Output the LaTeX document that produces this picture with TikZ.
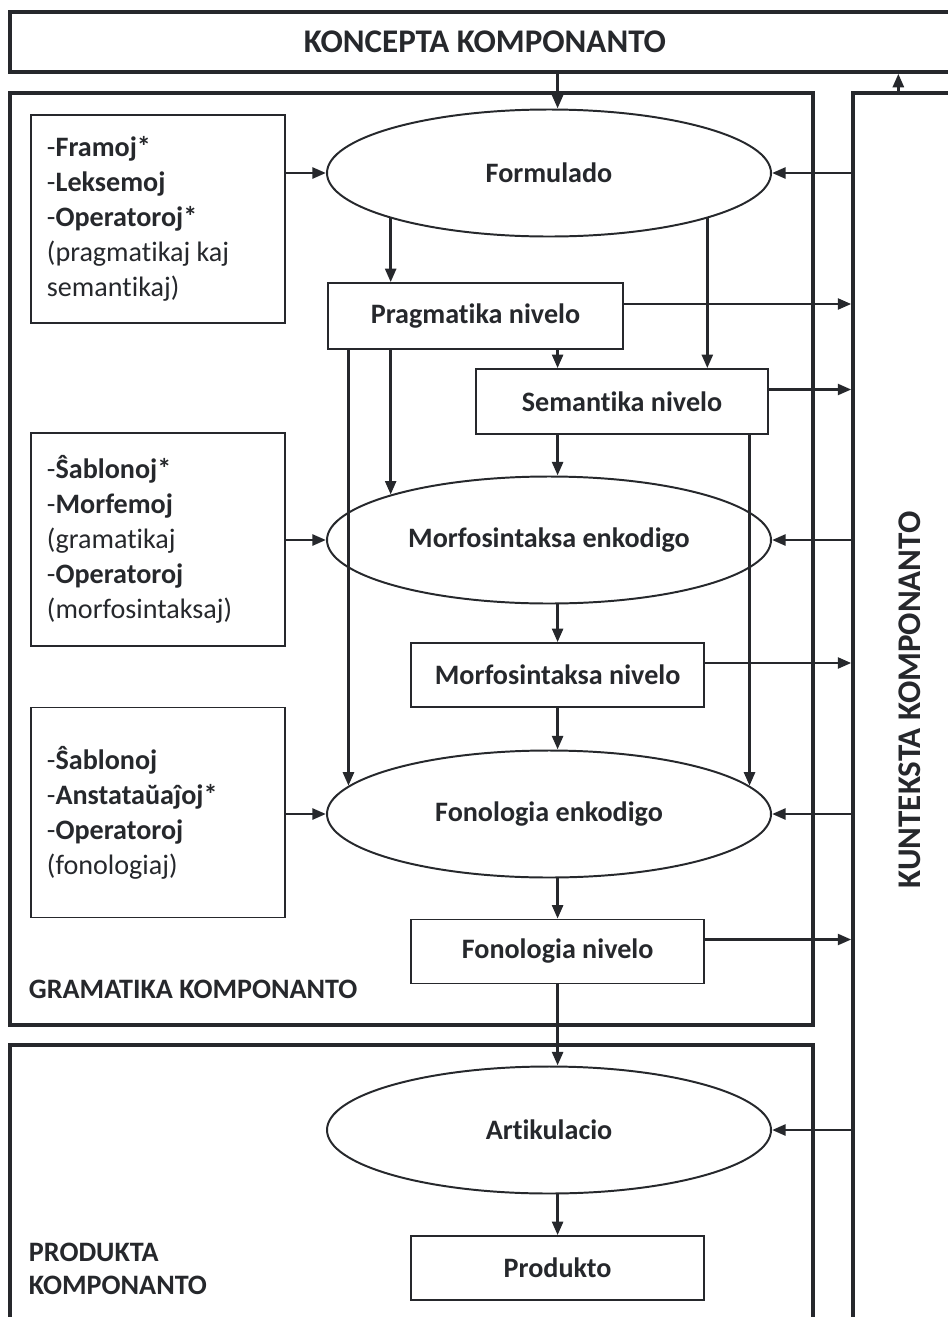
\documentclass[tikz,border=0pt]{standalone}
\usepackage{fontspec}
\setmainfont[Ligatures=NoCommon]{Carlito}
\usetikzlibrary{arrows.meta,shapes.geometric}
\definecolor{ink}{RGB}{38,40,44}

\begin{document}
\begin{tikzpicture}[color=ink, font=\fontsize{20}{24.9}\selectfont]
        \useasboundingbox (0,0) rectangle (23.7,-32.925);
        \fill[white] (0,0) rectangle (23.7,-32.925);

        % the four components
        \begin{scope}[every node/.style={rectangle,draw,line width=2.35pt,inner sep=0pt}]
            \node (konc) [minimum width=23.75cm, minimum height=1.5cm, font=\fontsize{23.5}{28}\selectfont\bfseries] at (12.125, -1.05) {KONCEPTA KOMPONANTO};
            \node (gram) [minimum width=20.075cm, minimum height=23.3cm] at (10.2875, -13.975) {};
            \node (prod) [minimum width=20.075cm, minimum height=8.875cm] at (10.2875, -30.5625) {};
            \node (kunt) [minimum width=3.675cm, minimum height=32.675cm] at (23.1625, -18.6625) {};
        \end{scope}
        \begin{scope}[every node/.style={anchor=west,align=left,font=\fontsize{20}{23.4}\selectfont\bfseries}]
            \node (gramlbl) at (0.6, -24.725) {GRAMATIKA KOMPONANTO};
            \node (prodlbl) at (0.6, -31.7125) {PRODUKTA\\KOMPONANTO};
            \node (kuntlbl) [rotate=90, anchor=center, font=\fontsize{23.5}{28}\selectfont\bfseries] at (22.75, -17.5) {KUNTEKSTA KOMPONANTO};
        \end{scope}

        % inputs
        \begin{scope}[every node/.style={rectangle,draw,line width=1.1pt,text width=5.55cm,inner xsep=0.4cm,minimum height=5.25cm,align=flush left}]
            \node (inA) [minimum height=5.2cm] at (3.95, -5.475) {-\textbf{Framoj*}\\-\textbf{Leksemoj}\\-\textbf{Operatoroj*}\\(pragmatikaj kaj\\semantikaj)};
            \node (inB) [minimum height=5.325cm] at (3.95, -13.4875) {-\textbf{Ŝablonoj*}\\-\textbf{Morfemoj}\\(gramatikaj\\-\textbf{Operatoroj}\\(morfosintaksaj)};
            \node (inC) at (3.95, -20.3125) {-\textbf{Ŝablonoj}\\-\textbf{Anstataŭaĵoj*}\\-\textbf{Operatoroj}\\(fonologiaj)};
        \end{scope}

        % levels
        \begin{scope}[every node/.style={rectangle,draw,line width=1.1pt,minimum width=7.325cm,minimum height=1.6cm,font=\fontsize{20}{24}\selectfont\bfseries}]
            \node (prag) [minimum width=7.375cm, minimum height=1.65cm] at (11.8875, -7.9) {Pragmatika nivelo};
            \node (sem) [minimum width=7.3cm, minimum height=1.625cm] at (15.55, -10.0375) {Semantika nivelo};
            \node (morfniv) at (13.94, -16.875) {Morfosintaksa nivelo};
            \node (fonniv) at (13.94, -23.7875) {Fonologia nivelo};
            \node (produkto) at (13.94, -31.7) {Produkto};
        \end{scope}

        % encoders
        \begin{scope}[every node/.style={ellipse,draw,line width=1.4pt,minimum width=11.1cm,minimum height=3.175cm,inner sep=0pt,font=\fontsize{20}{24}\selectfont\bfseries}]
            \node (form) at (13.725, -4.325) {Formulado};
            \node (morfenk) at (13.725, -13.5) {Morfosintaksa enkodigo};
            \node (fonenk) at (13.725, -20.35) {Fonologia enkodigo};
            \node (artik) at (13.725, -28.25) {Artikulacio};
        \end{scope}

        \begin{scope}[every edge/.style={draw=ink,line width=2.1pt,-{Triangle[length=3.4mm,width=2.7mm]}}]
            \path (konc.south -| morfniv.north) edge (morfniv.north |- form.north);
            \path ([xshift=1.175cm]kunt.north west) edge ([xshift=1.175cm]kunt.north west |- konc.south);
            \path (inA.east |- form.west) edge (form.west);
            \path (inB.east |- morfenk.west) edge (morfenk.west);
            \path (inC.east |- fonenk.west) edge (fonenk.west);
            \path (kunt.west |- form.east) edge (form.east);
            \path (kunt.west |- morfenk.east) edge (morfenk.east);
            \path (kunt.west |- fonenk.east) edge (fonenk.east);
            \path (kunt.west |- artik.east) edge (artik.east);
            \path ([yshift=3mm]prag.east) edge ([yshift=3mm]prag.east -| kunt.west);
            \path ([yshift=3mm]sem.east) edge ([yshift=3mm]sem.east -| kunt.west);
            \path ([yshift=3mm]morfniv.east) edge ([yshift=3mm]morfniv.east -| kunt.west);
            \path ([yshift=3mm]fonniv.east) edge ([yshift=3mm]fonniv.east -| kunt.west);
            \path (form.196) edge (form.196 |- prag.north);
            \path (form.344) edge (form.344 |- sem.north);
            \path (prag.south -| morfniv.north) edge (sem.north -| morfniv.north);
            \path (prag.south -| morfenk.164) edge (morfenk.164);
            \path (prag.south -| fonenk.172) edge (fonenk.172);
            \path (sem.south -| morfniv.north) edge (morfniv.north |- morfenk.north);
            \path (sem.south -| fonenk.8) edge (fonenk.8);
            \path (morfenk.south -| morfniv.north) edge (morfniv.north);
            \path (morfniv.south) edge (morfniv.south |- fonenk.north);
            \path (fonenk.south -| fonniv.north) edge (fonniv.north);
            \path (fonniv.south) edge (fonniv.south |- artik.north);
            \path (artik.south -| produkto.north) edge (produkto.north);
        \end{scope}
    \end{tikzpicture}
\end{document}
